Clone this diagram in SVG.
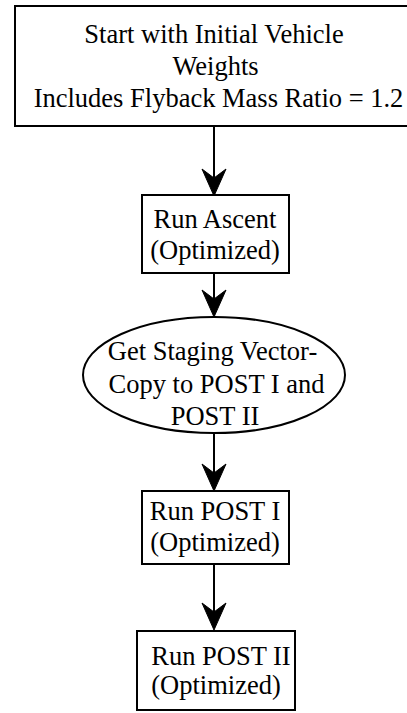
<svg xmlns="http://www.w3.org/2000/svg" width="407" height="713" viewBox="0 0 407 713">
  <style>
    .shape { fill: #ffffff; stroke: #000000; stroke-width: 2; }
    .label { font-family: "Liberation Serif", "Times New Roman", serif; font-size: 26.5px; fill: #000000; text-anchor: middle; }
    .flow { stroke: #000000; stroke-width: 2; fill: none; }
    .head { fill: #000000; stroke: #000000; stroke-width: 1; stroke-linejoin: miter; }
  </style>
  <defs>
    <!-- barbed arrowhead, tip at origin pointing down -->
    <path id="arrowhead" class="head" d="M0,0 L-12,-27 L0,-18 L12,-27 Z"/>
  </defs>

  <rect width="407" height="713" fill="#ffffff"/>

  <g id="connectors">
    <line class="flow" x1="214" y1="126" x2="214" y2="186"/>
    <use href="#arrowhead" x="214" y="196"/>
    <line class="flow" x1="214" y1="273" x2="214" y2="307"/>
    <use href="#arrowhead" x="214" y="317"/>
    <line class="flow" x1="214" y1="433" x2="214" y2="481"/>
    <use href="#arrowhead" x="214" y="491"/>
    <line class="flow" x1="214" y1="564" x2="214" y2="620"/>
    <use href="#arrowhead" x="214" y="630"/>
  </g>

  <g id="start-weights">
    <rect class="shape" x="15" y="6" width="400" height="120"/>
    <text class="label" x="214" y="43">Start with Initial Vehicle</text>
    <text class="label" x="215.5" y="75">Weights</text>
    <text class="label" x="218.5" y="107">Includes Flyback Mass Ratio = 1.2</text>
  </g>

  <g id="run-ascent">
    <rect class="shape" x="142" y="195" width="147" height="78"/>
    <text class="label" x="215" y="228">Run Ascent</text>
    <text class="label" x="215" y="259">(Optimized)</text>
  </g>

  <g id="staging-vector">
    <ellipse class="shape" cx="214" cy="375" rx="131" ry="58"/>
    <text class="label" x="212.5" y="360">Get Staging Vector-</text>
    <text class="label" x="216.5" y="393">Copy to POST I and</text>
    <text class="label" x="215" y="425">POST II</text>
  </g>

  <g id="run-post-1">
    <rect class="shape" x="142" y="491" width="147" height="73"/>
    <text class="label" x="215" y="520">Run POST I</text>
    <text class="label" x="215" y="551">(Optimized)</text>
  </g>

  <g id="run-post-2">
    <rect class="shape" x="137" y="631" width="158" height="79"/>
    <text class="label" x="221" y="665">Run POST II</text>
    <text class="label" x="216" y="694">(Optimized)</text>
  </g>
</svg>
